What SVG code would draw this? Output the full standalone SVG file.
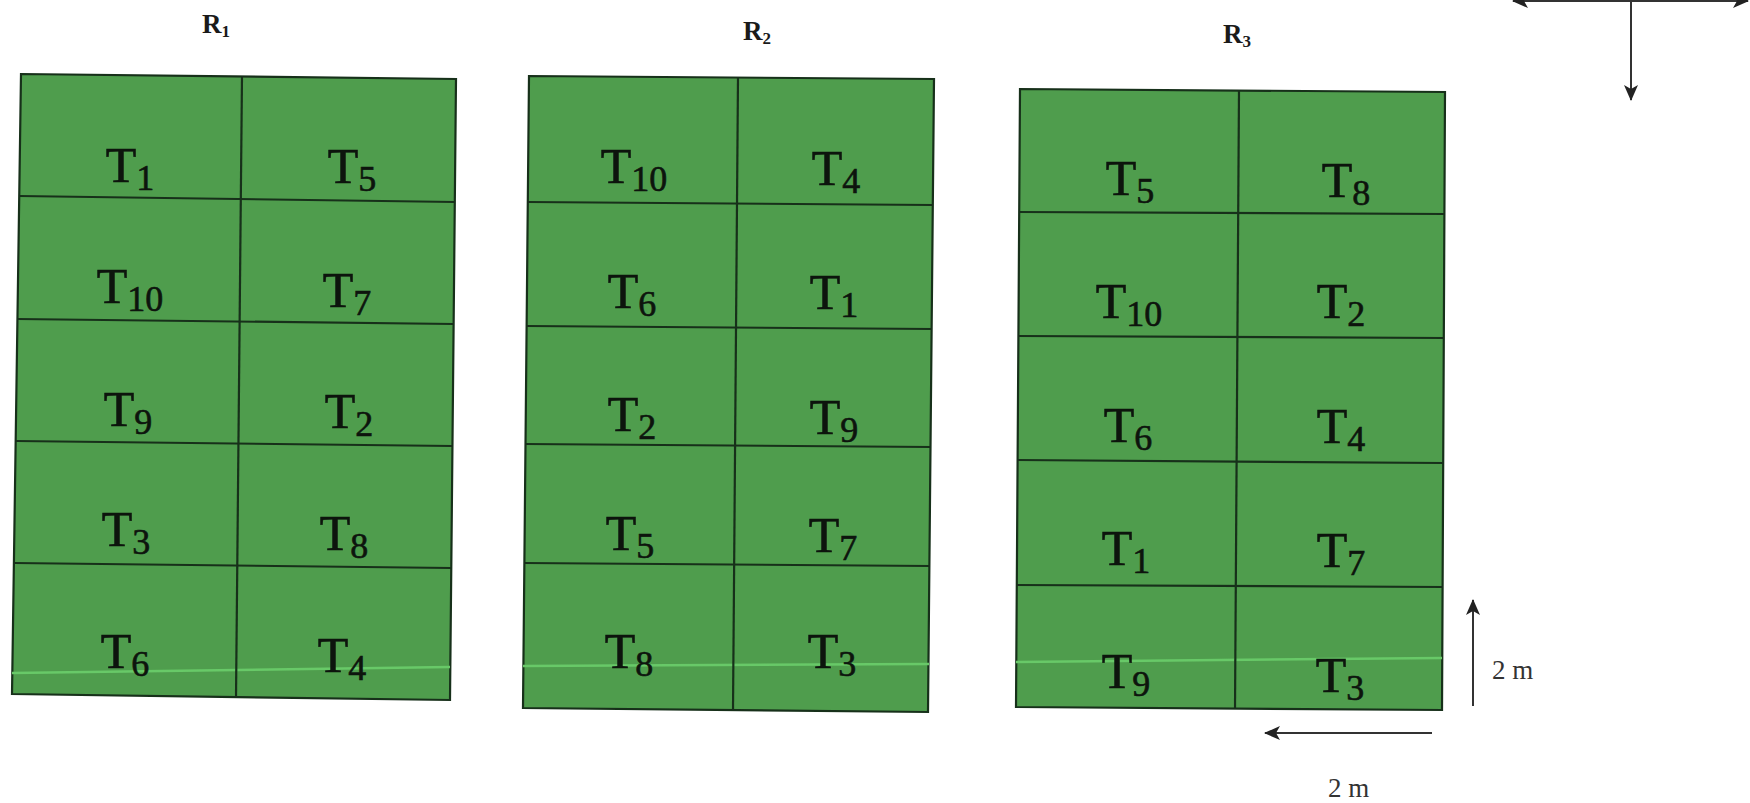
<svg xmlns="http://www.w3.org/2000/svg" width="1750" height="803" viewBox="0 0 1750 803">
<style>
.bg{fill:#4f9d4d;stroke:#17301a;stroke-width:2.2}
.gl{stroke:#17301a;stroke-width:2.2;fill:none}
.hl{stroke:#68c968;stroke-width:2.5;fill:none}
.t{font-family:"Liberation Serif","Times New Roman",serif;font-size:50px;fill:#0d140d;stroke:#0d140d;stroke-width:0.6;text-anchor:middle}
.s{font-size:36px}
.h{font-family:"Liberation Serif","Times New Roman",serif;font-size:27px;font-weight:bold;fill:#1a1a1a;text-anchor:middle}
.hs{font-size:17px}
.a{stroke:#333;stroke-width:2;fill:none}
.m{font-family:"Liberation Serif","Times New Roman",serif;font-size:27px;fill:#333}
</style>
<defs>
<marker id="ah" viewBox="0 0 16 14" refX="15" refY="7" markerWidth="16" markerHeight="14" markerUnits="userSpaceOnUse" orient="auto-start-reverse">
<path d="M0,0 L16,7 L0,14 L4,7 z" fill="#222"/>
</marker>
</defs>

<g id="r1">
<polygon class="bg" points="21,74 456,79 450,700 12,694"/>
<line class="hl" x1="12" y1="673" x2="450" y2="667"/>
<line class="gl" x1="19" y1="196" x2="455" y2="202"/>
<line class="gl" x1="17" y1="319" x2="454" y2="324"/>
<line class="gl" x1="16" y1="441" x2="452" y2="446"/>
<line class="gl" x1="14" y1="563" x2="451" y2="568"/>
<line class="gl" x1="242" y1="76" x2="236" y2="697"/>
<g id="r1-label"><text class="h" x="216" y="33">R<tspan class="hs" dy="4">1</tspan></text></g>
<g id="r1-c1"><text class="t" x="130" y="182">T<tspan class="s" dy="8">1</tspan></text></g>
<g id="r1-c2"><text class="t" x="352" y="183">T<tspan class="s" dy="8">5</tspan></text></g>
<g id="r1-c3"><text class="t" x="130" y="303">T<tspan class="s" dy="8">10</tspan></text></g>
<g id="r1-c4"><text class="t" x="347" y="307">T<tspan class="s" dy="8">7</tspan></text></g>
<g id="r1-c5"><text class="t" x="128" y="426">T<tspan class="s" dy="8">9</tspan></text></g>
<g id="r1-c6"><text class="t" x="349" y="428">T<tspan class="s" dy="8">2</tspan></text></g>
<g id="r1-c7"><text class="t" x="126" y="546">T<tspan class="s" dy="8">3</tspan></text></g>
<g id="r1-c8"><text class="t" x="344" y="550">T<tspan class="s" dy="8">8</tspan></text></g>
<g id="r1-c9"><text class="t" x="125" y="668">T<tspan class="s" dy="8">6</tspan></text></g>
<g id="r1-c10"><text class="t" x="342" y="672">T<tspan class="s" dy="8">4</tspan></text></g>
</g>

<g id="r2">
<polygon class="bg" points="529,76 934,79 928,712 523,708"/>
<line class="hl" x1="523" y1="666" x2="929" y2="664"/>
<line class="gl" x1="528" y1="202" x2="933" y2="205"/>
<line class="gl" x1="527" y1="326" x2="932" y2="329"/>
<line class="gl" x1="525" y1="444" x2="931" y2="447"/>
<line class="gl" x1="524" y1="563" x2="930" y2="566"/>
<line class="gl" x1="738" y1="77" x2="733" y2="710"/>
<g id="r2-label"><text class="h" x="757" y="40">R<tspan class="hs" dy="4">2</tspan></text></g>
<g id="r2-c1"><text class="t" x="634" y="183">T<tspan class="s" dy="8">10</tspan></text></g>
<g id="r2-c2"><text class="t" x="836" y="185">T<tspan class="s" dy="8">4</tspan></text></g>
<g id="r2-c3"><text class="t" x="632" y="308">T<tspan class="s" dy="8">6</tspan></text></g>
<g id="r2-c4"><text class="t" x="834" y="309">T<tspan class="s" dy="8">1</tspan></text></g>
<g id="r2-c5"><text class="t" x="632" y="431">T<tspan class="s" dy="8">2</tspan></text></g>
<g id="r2-c6"><text class="t" x="834" y="434">T<tspan class="s" dy="8">9</tspan></text></g>
<g id="r2-c7"><text class="t" x="630" y="550">T<tspan class="s" dy="8">5</tspan></text></g>
<g id="r2-c8"><text class="t" x="833" y="552">T<tspan class="s" dy="8">7</tspan></text></g>
<g id="r2-c9"><text class="t" x="629" y="668">T<tspan class="s" dy="8">8</tspan></text></g>
<g id="r2-c10"><text class="t" x="832" y="668">T<tspan class="s" dy="8">3</tspan></text></g>
</g>

<g id="r3">
<polygon class="bg" points="1020,89 1445,92 1442,710 1016,707"/>
<line class="hl" x1="1016" y1="662" x2="1442" y2="658"/>
<line class="gl" x1="1019" y1="212" x2="1444" y2="214"/>
<line class="gl" x1="1018" y1="336" x2="1444" y2="338"/>
<line class="gl" x1="1017" y1="460" x2="1443" y2="463"/>
<line class="gl" x1="1016" y1="585" x2="1443" y2="587"/>
<line class="gl" x1="1239" y1="90" x2="1235" y2="709"/>
<g id="r3-label"><text class="h" x="1237" y="43">R<tspan class="hs" dy="4">3</tspan></text></g>
<g id="r3-c1"><text class="t" x="1130" y="195">T<tspan class="s" dy="8">5</tspan></text></g>
<g id="r3-c2"><text class="t" x="1346" y="197">T<tspan class="s" dy="8">8</tspan></text></g>
<g id="r3-c3"><text class="t" x="1129" y="318">T<tspan class="s" dy="8">10</tspan></text></g>
<g id="r3-c4"><text class="t" x="1341" y="318">T<tspan class="s" dy="8">2</tspan></text></g>
<g id="r3-c5"><text class="t" x="1128" y="442">T<tspan class="s" dy="8">6</tspan></text></g>
<g id="r3-c6"><text class="t" x="1341" y="443">T<tspan class="s" dy="8">4</tspan></text></g>
<g id="r3-c7"><text class="t" x="1126" y="565">T<tspan class="s" dy="8">1</tspan></text></g>
<g id="r3-c8"><text class="t" x="1341" y="567">T<tspan class="s" dy="8">7</tspan></text></g>
<g id="r3-c9"><text class="t" x="1126" y="688">T<tspan class="s" dy="8">9</tspan></text></g>
<g id="r3-c10"><text class="t" x="1340" y="692">T<tspan class="s" dy="8">3</tspan></text></g>
</g>

<g id="connectors">
<line class="a" x1="1513" y1="1" x2="1748" y2="1" marker-start="url(#ah)" marker-end="url(#ah)"/>
<line class="a" x1="1631" y1="0" x2="1631" y2="100" marker-end="url(#ah)"/>
<line class="a" x1="1473" y1="706" x2="1473" y2="600" marker-end="url(#ah)"/>
<line class="a" x1="1432" y1="733" x2="1265" y2="733" marker-end="url(#ah)"/>
</g>
<g id="scale-labels">
<text class="m" x="1492" y="679">2 m</text>
<text class="m" x="1328" y="797">2 m</text>
</g>
</svg>
